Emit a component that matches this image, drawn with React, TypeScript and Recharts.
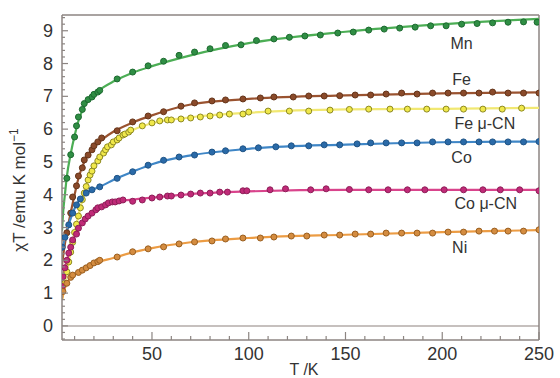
import { ComposedChart, Line, XAxis, YAxis, ReferenceLine, ReferenceDot } from 'recharts';

// measured points (T / K, chi*T / emu K mol-1)
const mnT = [6, 8, 10, 11, 12, 14, 15, 17, 19, 20, 22, 23, 32, 40, 48, 56, 64, 72, 80, 88, 96, 104, 113, 121, 129, 137, 146, 154, 162, 170, 178, 186, 194, 202, 210, 218, 226, 234, 242, 249];
const mnChi = [4.5, 5.22, 5.76, 6.1, 6.37, 6.6, 6.78, 6.9, 6.98, 7.06, 7.13, 7.18, 7.53, 7.74, 7.93, 8.07, 8.25, 8.35, 8.45, 8.55, 8.57, 8.7, 8.75, 8.8, 8.84, 8.87, 8.93, 8.96, 9.02, 9.05, 9.08, 9.11, 9.15, 9.15, 9.2, 9.22, 9.24, 9.26, 9.27, 9.26];

const feT = [6, 8, 9, 11, 12, 14, 15, 17, 19, 20, 22, 24, 32, 40, 48, 56, 65, 72, 81, 88, 97, 106, 113, 123, 131, 139, 147, 155, 163, 171, 179, 187, 195, 203, 211, 219, 226, 234, 242, 250];
const feChi = [2.84, 3.44, 3.93, 4.27, 4.57, 4.82, 5.06, 5.21, 5.37, 5.49, 5.61, 5.73, 5.95, 6.22, 6.4, 6.53, 6.7, 6.8, 6.86, 6.89, 6.92, 6.95, 6.98, 6.98, 7.01, 7.01, 7.02, 7.04, 7.04, 7.07, 7.1, 7.07, 7.1, 7.1, 7.1, 7.1, 7.13, 7.1, 7.1, 7.1];

const fecnT = [5, 6, 7, 8, 9, 10, 11, 12, 13, 14, 15, 16, 17, 18, 19, 20, 22, 23, 25, 26, 27, 29, 30, 32, 33, 35, 36, 38, 39, 45, 50, 54, 58, 60, 65, 70, 75, 80, 85, 90, 97, 100, 110, 121, 131, 142, 152, 162, 173, 182, 192, 202, 211, 221, 231, 241];
const fecnChi = [1.3, 1.65, 1.95, 2.25, 2.55, 2.85, 3.1, 3.35, 3.6, 3.85, 4.05, 4.25, 4.45, 4.6, 4.72, 4.88, 5.03, 5.15, 5.27, 5.37, 5.46, 5.52, 5.61, 5.67, 5.73, 5.82, 5.85, 5.91, 5.97, 6.1, 6.19, 6.25, 6.28, 6.28, 6.31, 6.34, 6.37, 6.4, 6.43, 6.46, 6.46, 6.52, 6.55, 6.55, 6.55, 6.58, 6.6, 6.61, 6.61, 6.61, 6.61, 6.61, 6.61, 6.61, 6.61, 6.64];

const coT = [3.6, 5, 7, 9, 11, 13, 16, 19, 23, 32, 40, 48, 56, 64, 72, 81, 88, 97, 105, 114, 122, 131, 139, 147, 156, 163, 171, 179, 187, 195, 203, 211, 219, 226, 234, 242, 250];
const coChi = [2.4, 2.7, 3.08, 3.44, 3.69, 3.87, 4.05, 4.15, 4.24, 4.5, 4.7, 4.9, 5.05, 5.15, 5.21, 5.3, 5.34, 5.4, 5.43, 5.46, 5.49, 5.49, 5.52, 5.52, 5.55, 5.58, 5.58, 5.58, 5.58, 5.61, 5.61, 5.61, 5.61, 5.61, 5.61, 5.61, 5.62];

const cocnT = [3.6, 4, 5, 6, 7, 8, 9, 11, 12, 14, 15.5, 17, 19, 21, 22, 24, 26, 27.5, 29.5, 31, 33, 35, 40, 45, 50, 54, 58, 60, 65, 70, 75, 80, 85, 89, 97, 99, 111, 119, 132, 140, 152, 162, 172, 182, 191, 201, 211, 221, 230, 240, 250];
const cocnChi = [1.2, 1.5, 1.77, 2.0, 2.22, 2.4, 2.62, 2.8, 2.98, 3.14, 3.26, 3.35, 3.44, 3.54, 3.6, 3.63, 3.69, 3.75, 3.78, 3.78, 3.81, 3.84, 3.8, 3.84, 3.9, 3.93, 3.96, 3.96, 3.99, 4.02, 4.05, 4.05, 4.08, 4.08, 4.12, 4.12, 4.15, 4.18, 4.15, 4.18, 4.16, 4.15, 4.15, 4.15, 4.15, 4.15, 4.15, 4.15, 4.15, 4.15, 4.12];

const niT = [4, 6, 8, 9, 12, 14, 16, 18, 20, 22, 23, 32, 40, 48, 56, 64, 72, 81, 88, 97, 106, 113, 122, 130, 139, 147, 155, 163, 171, 179, 187, 195, 203, 211, 219, 227, 234, 242, 250];
const niChi = [1.05, 1.3, 1.48, 1.55, 1.63, 1.7, 1.77, 1.84, 1.92, 1.96, 2.0, 2.1, 2.26, 2.35, 2.41, 2.5, 2.56, 2.59, 2.65, 2.68, 2.68, 2.71, 2.74, 2.74, 2.77, 2.77, 2.8, 2.8, 2.83, 2.83, 2.83, 2.83, 2.86, 2.86, 2.89, 2.89, 2.89, 2.89, 2.93];

// fitted curves
const mnFitT = [3.5, 4, 5, 6, 8, 10, 12, 15, 20, 25, 30, 40, 50, 70, 100, 150, 200, 250];
const mnFit = [2.9, 3.4, 4.0, 4.55, 5.25, 5.8, 6.25, 6.7, 7.05, 7.28, 7.45, 7.72, 7.92, 8.25, 8.62, 8.97, 9.2, 9.36];
const feFitT = [3.5, 4, 5, 6, 8, 10, 12, 15, 20, 25, 30, 40, 50, 70, 100, 150, 200, 250];
const feFit = [1.85, 2.1, 2.5, 2.85, 3.45, 4.0, 4.5, 5.0, 5.45, 5.72, 5.92, 6.2, 6.42, 6.75, 6.92, 7.03, 7.09, 7.12];
const fecnFitT = [3.5, 4, 5, 6, 8, 10, 13, 17, 20, 25, 30, 40, 50, 70, 100, 150, 200, 250];
const fecnFit = [0.8, 0.95, 1.3, 1.65, 2.25, 2.85, 3.6, 4.45, 4.88, 5.3, 5.6, 5.97, 6.18, 6.36, 6.5, 6.6, 6.62, 6.65];
const coFitT = [3.5, 5, 7, 10, 13, 16, 20, 25, 30, 40, 50, 70, 100, 150, 200, 250];
const coFit = [2.3, 2.68, 3.1, 3.58, 3.88, 4.05, 4.17, 4.3, 4.45, 4.7, 4.93, 5.2, 5.4, 5.53, 5.6, 5.62];
const cocnFitT = [3.5, 4, 5, 6, 8, 10, 12, 15, 20, 25, 30, 40, 50, 70, 100, 150, 200, 250];
const cocnFit = [1.0, 1.45, 1.78, 2.0, 2.4, 2.72, 2.95, 3.22, 3.5, 3.67, 3.77, 3.85, 3.91, 4.02, 4.1, 4.15, 4.15, 4.15];
const niFitT = [3.5, 5, 7, 10, 15, 20, 30, 40, 50, 70, 100, 150, 200, 250];
const niFit = [0.8, 1.15, 1.4, 1.57, 1.75, 1.9, 2.07, 2.24, 2.37, 2.55, 2.68, 2.78, 2.86, 2.92];

const xLabels = [50, 100, 150, 200, 250];
const yLabels = [0, 1, 2, 3, 4, 5, 6, 7, 8, 9];
const xTicks = Array.from({ length: 25 }, (_, i) => (i + 1) * 10);
const yTicks = Array.from({ length: 50 }, (_, i) => Math.round((-0.4 + i * 0.2) * 10) / 10);

const seriesNames = ['Mn', 'Fe', 'Fe \u03bc-CN', 'Co', 'Co \u03bc-CN', 'Ni'];

const pts = (t: number[], v: number[]) => t.map((x, i) => ({ t: x, v: v[i] }));

const FONT = '"Liberation Sans", Arial, sans-serif';
const AXIS = '#8c8582';

const series = [
  { pts: pts(mnT, mnChi), fit: pts(mnFitT, mnFit), line: '#4cae55', fill: '#2f8e44', stroke: '#1d6a30' },
  { pts: pts(feT, feChi), fit: pts(feFitT, feFit), line: '#9a5330', fill: '#8a4a2a', stroke: '#65351a' },
  { pts: pts(fecnT, fecnChi), fit: pts(fecnFitT, fecnFit), line: '#f1e872', fill: '#f0e84a', stroke: '#8e8a22' },
  { pts: pts(coT, coChi), fit: pts(coFitT, coFit), line: '#3f86c6', fill: '#2a6aa8', stroke: '#1f5486' },
  { pts: pts(cocnT, cocnChi), fit: pts(cocnFitT, cocnFit), line: '#d9448c', fill: '#c02a78', stroke: '#8e1e58' },
  { pts: pts(niT, niChi), fit: pts(niFitT, niFit), line: '#ec9c44', fill: '#d48c40', stroke: '#9a5f20' },
];

// where the series names sit (data coordinates)
const nameSpots = [
  { t: 210, v: 8.63 },
  { t: 210, v: 7.53 },
  { t: 222, v: 6.19 },
  { t: 210, v: 5.15 },
  { t: 222.5, v: 3.75 },
  { t: 209, v: 2.41 },
];

const XTick = (props: any) => {
  const { x, y, payload } = props;
  const major = xLabels.includes(payload.value);
  return (
    <g>
      <line x1={x} x2={x} y1={y} y2={y - (major ? 8 : 4)} stroke={AXIS} strokeWidth={1.2} />
      {major && (
        <text x={x} y={y + 20} textAnchor="middle" fontSize={18} fontFamily={FONT} fill="#333">
          {payload.value}
        </text>
      )}
    </g>
  );
};

const YTick = (props: any) => {
  const { x, y, payload } = props;
  const v = payload.value;
  const major = yLabels.includes(v);
  return (
    <g>
      <line x1={x} x2={x + (major ? 6 : 3)} y1={y} y2={y} stroke={AXIS} strokeWidth={1.2} />
      {major && (
        <text x={x - 9} y={y + 6} textAnchor="end" fontSize={18} fontFamily={FONT} fill="#333">
          {v}
        </text>
      )}
    </g>
  );
};

const YTitle = () => (
  <text x={25} y={190} transform="rotate(-90 25 190)" textAnchor="middle" fontSize={17} fontFamily={FONT} fill="#333">
    {'\u03c7T /emu K mol'}
    <tspan dy={-7} fontSize={12}>{'\u22121'}</tspan>
  </text>
);

const XTitle = () => (
  <text x={304} y={375} textAnchor="middle" fontSize={16} fontFamily={FONT} fill="#333">
    T /K
  </text>
);

export default function App() {
  return (
    <div style={{ position: 'absolute', left: 0, top: 0, background: '#fff' }}>
      <ComposedChart width={560} height={378} margin={{ top: 15, right: 21, left: 0, bottom: 0 }}>
        <XAxis
          type="number"
          dataKey="t"
          domain={[3.5, 250]}
          allowDataOverflow
          ticks={xTicks}
          interval={0}
          tick={<XTick />}
          tickSize={0}
          tickMargin={0}
          tickLine={false}
          height={38}
          stroke={AXIS}
          strokeWidth={1.5}
          label={{ content: () => <XTitle /> }}
        />
        <YAxis
          type="number"
          dataKey="v"
          domain={[-0.43, 9.48]}
          allowDataOverflow
          ticks={yTicks}
          interval={0}
          tick={<YTick />}
          tickSize={0}
          tickMargin={0}
          tickLine={false}
          width={62}
          stroke={AXIS}
          strokeWidth={1.5}
          label={{ content: () => <YTitle /> }}
        />
        <ReferenceLine y={0} stroke="#b3aba9" strokeWidth={1.5} />
        <ReferenceLine y={9.48} stroke={AXIS} strokeWidth={1.5} />
        <ReferenceLine x={250} stroke={AXIS} strokeWidth={1.5} />
        {series.map((s, i) => (
          <Line
            key={'fit' + i}
            data={s.fit}
            dataKey="v"
            type="monotone"
            stroke={s.line}
            strokeWidth={2.2}
            dot={false}
            activeDot={false}
            isAnimationActive={false}
          />
        ))}
        {series.map((s, i) => (
          <Line
            key={'pts' + i}
            data={s.pts}
            dataKey="v"
            stroke="none"
            dot={{ r: 3, fill: s.fill, stroke: s.stroke, strokeWidth: 1, fillOpacity: 1 }}
            activeDot={false}
            isAnimationActive={false}
          />
        ))}
        {nameSpots.map((p, i) => (
          <ReferenceDot
            key={'n' + i}
            x={p.t}
            y={p.v}
            r={0}
            stroke="none"
            fill="none"
            label={{ value: seriesNames[i], position: 'center', fontSize: 16, fontFamily: FONT, fill: '#333' }}
          />
        ))}
      </ComposedChart>
    </div>
  );
}
